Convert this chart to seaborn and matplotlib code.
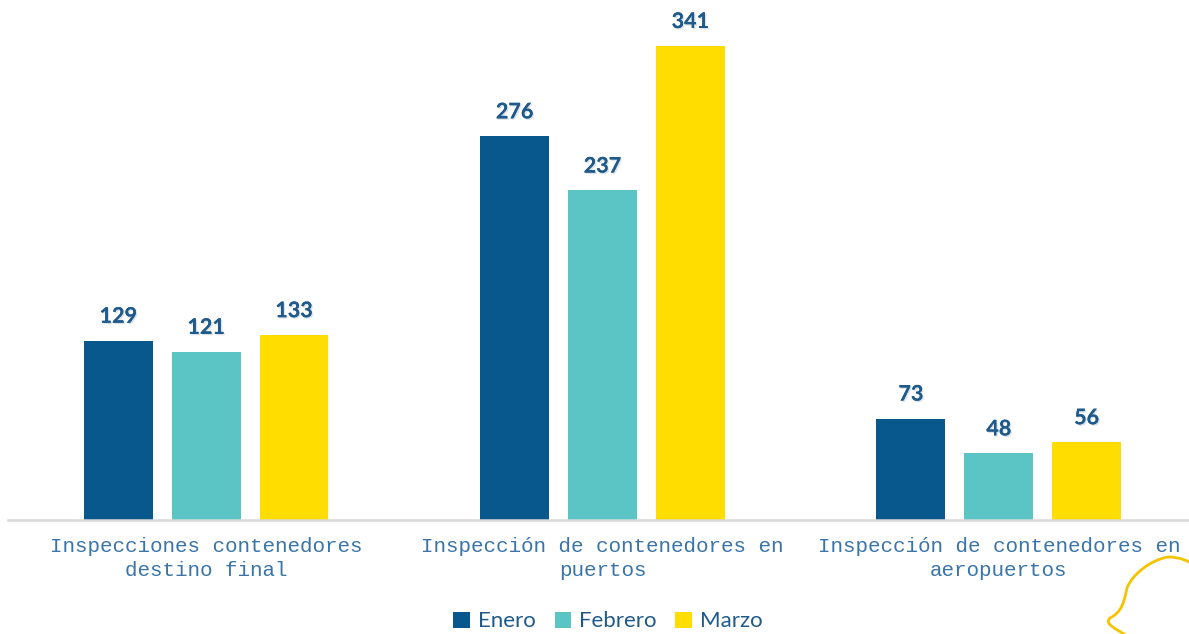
import matplotlib
matplotlib.use("Agg")
import matplotlib.pyplot as plt
import matplotlib.patheffects as pe
from matplotlib.path import Path
from matplotlib.patches import PathPatch
import seaborn as sns
import pandas as pd

categories = ["Inspecciones contenedores\ndestino final",
              "Inspección de contenedores en\npuertos",
              "Inspección de contenedores en\naeropuertos"]
series = ["Enero", "Febrero", "Marzo"]
enero = [129, 276, 73]
febrero = [121, 237, 48]
marzo = [133, 341, 56]
colors = ["#08588D", "#5BC5C6", "#FFDD00"]

rows = []
for s, vals in zip(series, [enero, febrero, marzo]):
    for c, v in zip(categories, vals):
        rows.append({"cat": c, "mes": s, "val": v})
df = pd.DataFrame(rows)

sns.set_theme(style="white")
fig = plt.figure(figsize=(11.89, 6.34), dpi=100)
ax = fig.add_axes([8/1189, 114/634, 1 - 8/1189, 520/634])

sns.barplot(data=df, x="cat", y="val", hue="mes", order=categories,
            hue_order=series, palette=colors, width=0.665, gap=0.216,
            saturation=1, ax=ax, legend=True, edgecolor="none")

ax.set_xlim(-0.5, 2.48)
ax.set_ylim(0, 374)
for cont in ax.containers:
    labels = ax.bar_label(cont, padding=10, fontsize=15.5, fontweight="bold",
                          color="#1F5A8C", family="Lato")
    for t in labels:
        t.set_path_effects([pe.withSimplePatchShadow(offset=(1, -1), shadow_rgbFace="#b8c4cf", alpha=0.5), pe.Normal()])

for side in ["top", "right", "left"]:
    ax.spines[side].set_visible(False)
ax.spines["bottom"].set_color("#D9D9D9")
ax.spines["bottom"].set_linewidth(1.8)
ax.set_yticks([])
ax.set_xlabel("")
ax.set_ylabel("")
ax.tick_params(axis="x", length=0, pad=12)
for lab in ax.get_xticklabels():
    lab.set_fontfamily("Liberation Mono")
    lab.set_fontsize(15)
    lab.set_color("#3A74A8")
    lab.set_linespacing(1.38)

leg = ax.legend(loc="center", bbox_to_anchor=(0.508, -0.195),
                ncol=3, frameon=False, handlelength=0.75, handleheight=0.75,
                handletextpad=0.35, columnspacing=0.85,
                prop={"family": "Lato", "size": 16})
for t in leg.get_texts():
    t.set_color("#1F5A8C")

# decorative yellow curve (bottom right)
H = 634
def P(x, y):
    return (x / 1189, (H - y) / H)
verts = [P(1127, 636), P(1115, 628), P(1104, 624), P(1110, 618),
         P(1122, 612), P(1124, 602), P(1127, 588),
         P(1132, 575), P(1150, 560), P(1168, 557),
         P(1180, 557), P(1189, 561), P(1195, 566)]
codes = [Path.MOVETO, Path.CURVE4, Path.CURVE4, Path.CURVE4,
         Path.CURVE4, Path.CURVE4, Path.CURVE4,
         Path.CURVE4, Path.CURVE4, Path.CURVE4,
         Path.CURVE4, Path.CURVE4, Path.CURVE4]
patch = PathPatch(Path(verts, codes), transform=fig.transFigure,
                  facecolor="none", edgecolor="#F5C400", lw=2)
fig.patches.append(patch)

fig.savefig("out.png", dpi=100)
